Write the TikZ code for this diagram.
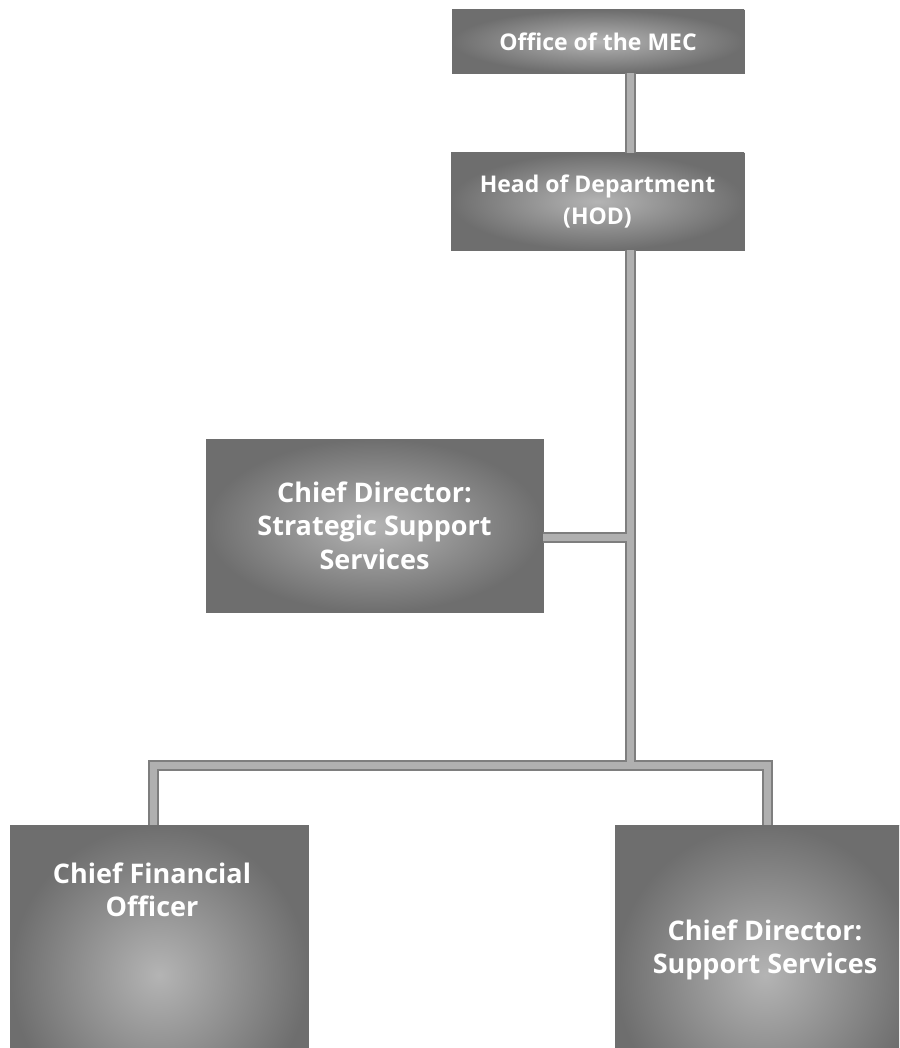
\documentclass[tikz,border=0pt]{standalone}
\usepackage{fontspec}
\setmainfont{Open Sans}
\begin{document}
\begin{tikzpicture}[x=1pt,y=-1pt,
  orgbox/.style={rectangle, inner color=boxin, outer color=boxout, draw=boxout, line width=0.8pt,
    text=white, font=\bfseries\fontsize{23}{32}\selectfont, align=center, inner sep=0pt},
  bigtext/.style={font=\bfseries\fontsize{27}{33.5}\selectfont},
  boxtext/.style={text=white, bigtext, align=center, inner sep=0pt},
  barout/.style={draw=baredge, line width=11pt},
  barin/.style={draw=barfill, line width=7pt}]
\definecolor{boxin}{HTML}{B4B4B4}
\definecolor{boxout}{HTML}{6E6E6E}
\definecolor{baredge}{HTML}{7E7E7E}
\definecolor{barfill}{HTML}{B0B0B0}
\useasboundingbox (0,0) rectangle (899,1048);
\clip (0,0) rectangle (899,1048);
% boxes
\node[orgbox, minimum width=292pt, minimum height=63pt] (mec) at (598,41.5) {Office of the MEC};
\node[orgbox, minimum width=293pt, minimum height=97pt] (hod) at (597.5,201.5) {Head of Department\\(HOD)};
\node[orgbox, bigtext, minimum width=337pt, minimum height=173pt] (sss) at (374.5,525.5) {Chief Director:\\Strategic Support\\Services};
\node[orgbox, minimum width=298pt, minimum height=300pt] (cfo) at (159,975) {};
\node[boxtext] (cfot) at (152,890) {Chief Financial\\Officer};
\node[orgbox, minimum width=300pt, minimum height=300pt] (cds) at (765,975) {};
\node[boxtext] (cdst) at (765,950) {Chief Director:\\Support Services};
% junction coordinates
\coordinate (j) at (630,765);
\coordinate (sj) at (630,537);
\coordinate (dl) at (153,765);
\coordinate (dr) at (767,765);
% connectors
\foreach \s in {barout,barin}{
  \draw[\s] (mec.south -| j) -- (hod.north -| j);
  \draw[\s] (hod.south -| j) -- (j);
  \draw[\s] (sss.east |- sj) -- (sj);
  \draw[\s] (cfo.north -| dl) -- (dl) -- (dr) -- (cds.north -| dr);
}
\end{tikzpicture}
\end{document}
